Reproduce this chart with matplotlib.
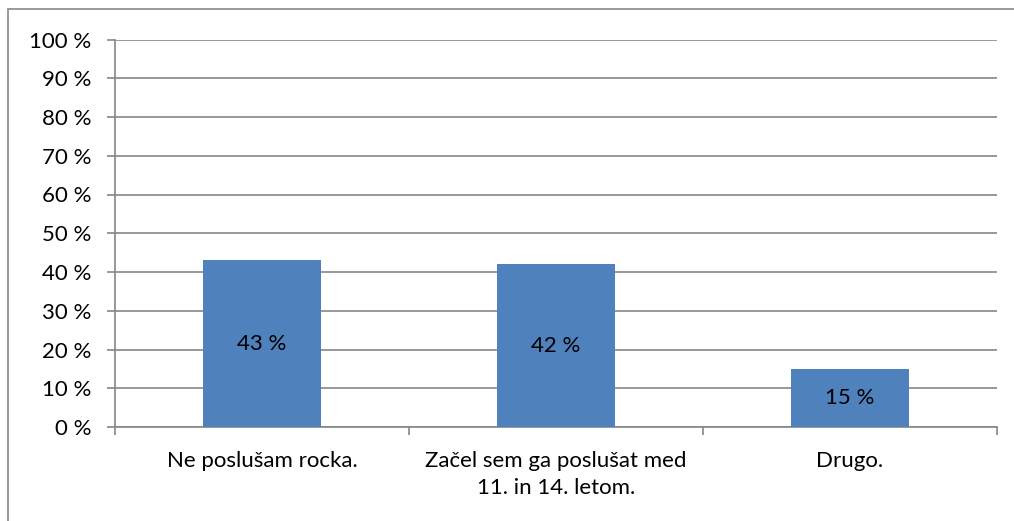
import matplotlib
matplotlib.use("Agg")
import matplotlib.pyplot as plt
from matplotlib.patches import Rectangle
from matplotlib.ticker import FixedLocator

categories = ["Ne poslušam rocka.", "Začel sem ga poslušat med\n11. in 14. letom.", "Drugo."]
values = [43, 42, 15]
y_ticks = list(range(0, 101, 10))

plt.rcParams['font.family'] = ['Lato', 'DejaVu Sans']

W, H = 1014, 521
fig = plt.figure(figsize=(W / 100, H / 100), dpi=100)

# outer chart border (only left/top visible in the reference)
fig.add_artist(Rectangle((8 / W, -0.1), 1.2, 1 - 9 / H + 0.1, transform=fig.transFigure,
                         fill=False, edgecolor='#888888', linewidth=1.2))

ax = fig.add_axes([115 / W, 1 - 427 / H, (997 - 115) / W, (427 - 39.5) / H])
x = range(len(categories))
bars = ax.bar(x, values, width=0.4, color='#4F81BD', zorder=3)

fs = 16
for b, v in zip(bars, values):
    ax.text(b.get_x() + b.get_width() / 2, v / 2, f"{v} %", ha='center', va='center',
            fontsize=fs, color='black', zorder=4)

ax.set_xlim(-0.5, len(categories) - 0.5)
ax.set_ylim(0, 100)
ax.set_yticks(y_ticks)
ax.set_yticklabels([f"{t} %" for t in y_ticks], fontsize=fs)
ax.yaxis.grid(True, color='#868686', linewidth=1.2, zorder=0)
ax.set_xticks(list(x))
ax.set_xticklabels(categories, fontsize=fs, linespacing=1.45)
ax.xaxis.set_minor_locator(FixedLocator([-0.5, 0.5, 1.5, 2.5]))
ax.tick_params(axis='x', which='major', length=0, pad=17)
ax.tick_params(axis='x', which='minor', length=6, color='#868686', width=1.2)
ax.tick_params(axis='y', length=6, color='#868686', width=1.2, pad=11)

for s in ['top', 'right']:
    ax.spines[s].set_visible(False)
for s in ['left', 'bottom']:
    ax.spines[s].set_color('#868686')
    ax.spines[s].set_linewidth(1.2)

fig.savefig("out.png", dpi=100)
